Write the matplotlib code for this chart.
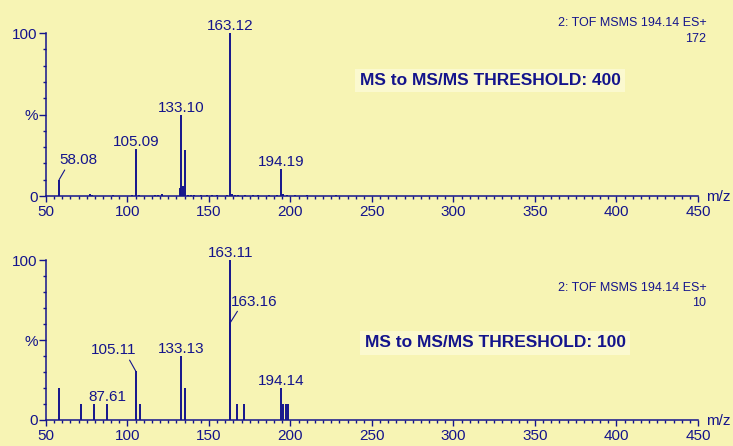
import matplotlib.pyplot as plt
from matplotlib.ticker import MultipleLocator

# top spectrum (threshold 400)
top_mz = [58.08, 77.1, 78.3, 91.0, 103.0, 105.09, 107.0, 117.0, 119.0, 121.0,
          132.3, 133.10, 134.1, 135.1, 137.0, 139.0, 141.0, 145.0, 149.0, 152.0,
          155.0, 161.0, 163.12, 164.2, 166.0, 168.0, 172.0, 177.0, 180.0, 187.0,
          192.0, 194.19, 195.3, 198.0, 203.0, 210.0, 228.0, 265.0, 300.0, 330.0,
          365.0, 408.0]
top_int = [10, 1.5, 0.8, 0.5, 0.6, 29, 0.5, 0.6, 0.8, 1.2,
           5, 50, 6, 28, 0.8, 0.6, 0.5, 0.6, 0.5, 0.6,
           0.5, 0.6, 100, 1.5, 0.8, 0.5, 0.6, 0.5, 0.6, 0.5,
           0.6, 16.5, 1.0, 0.6, 0.5, 0.4, 0.4, 0.3, 0.3, 0.3,
           0.3, 0.3]

# bottom spectrum (threshold 100)
bot_mz = [58.2, 71.3, 79.2, 87.61, 105.11, 107.4, 133.13, 135.3, 163.11, 163.16,
          167.0, 171.7, 194.14, 195.3, 197.4, 198.2]
bot_int = [20, 10, 10, 10, 30.5, 10, 40, 20, 100, 61,
           10, 10, 20, 10, 10, 10]

# labelled peaks: (m/z, intensity, text)
top_labels = [(58.08, 10, "58.08"), (105.09, 29, "105.09"), (133.10, 50, "133.10"),
              (163.12, 100, "163.12"), (194.19, 16.5, "194.19")]
bot_labels = [(87.61, 10, "87.61"), (105.11, 30.5, "105.11"), (133.13, 40, "133.13"),
              (163.11, 100, "163.11"), (163.16, 61, "163.16"), (194.14, 20, "194.14")]
leader = {"58.08": (14, 9), "105.11": (-16, 10), "163.16": (17, 10)}

headers = ["2: TOF MSMS 194.14 ES+\n172", "2: TOF MSMS 194.14 ES+\n10"]
thresholds = ["MS to MS/MS THRESHOLD: 400", "MS to MS/MS THRESHOLD: 100"]

BLUE = "#14148c"
BG = "#f7f4b4"
plt.rcParams["font.family"] = ["Liberation Sans", "DejaVu Sans"]

fig = plt.figure(figsize=(7.33, 4.46), dpi=100, facecolor=BG)
ax_top = fig.add_axes([0.0627, 0.5605, 0.8895, 0.3655])
ax_bot = fig.add_axes([0.0627, 0.0583, 0.8895, 0.3587])

panels = [(ax_top, top_mz, top_int, top_labels, 0),
          (ax_bot, bot_mz, bot_int, bot_labels, 1)]
header_y = [1.012, 0.778]
thr_pos = [(0.681, 0.709), (0.689, 0.483)]

for ax, mz, inten, labels, i in panels:
    ax.set_facecolor("none")
    ax.vlines(mz, 0, inten, color=BLUE, lw=1.4)
    ax.set_xlim(50, 450)
    ax.set_ylim(0, 100)
    for s in ("top", "right"):
        ax.spines[s].set_visible(False)
    for s in ("left", "bottom"):
        ax.spines[s].set_color(BLUE)
        ax.spines[s].set_linewidth(1.1)
    ax.xaxis.set_major_locator(MultipleLocator(50))
    ax.xaxis.set_minor_locator(MultipleLocator(5))
    ax.set_yticks([0, 50, 100])
    ax.set_yticklabels(["0", "%", "100"])
    ax.yaxis.set_minor_locator(MultipleLocator(10))
    ax.tick_params(which="both", colors=BLUE, width=1.0, labelsize=11, labelcolor=BLUE)
    ax.tick_params(axis="x", which="major", length=4.5, pad=2)
    ax.tick_params(axis="x", which="minor", length=2.5)
    ax.tick_params(axis="y", which="major", length=5, pad=1)
    ax.tick_params(axis="y", which="minor", length=2.5)

    ax.annotate("m/z", xy=(1, 0), xycoords="axes fraction", xytext=(6, -1),
                textcoords="offset points", ha="left", va="center",
                fontsize=11, color=BLUE)

    for x, y, txt in labels:
        if txt in leader:
            dx, dy = leader[txt]
            ax.annotate(txt, xy=(x, y), xytext=(dx, dy), textcoords="offset points",
                        ha="center", va="bottom", fontsize=11, color=BLUE,
                        arrowprops=dict(arrowstyle="-", color=BLUE, lw=0.8,
                                        shrinkA=0, shrinkB=0,
                                        relpos=(0.2 if dx > 0 else 0.8, 0.1)))
        else:
            ax.annotate(txt, xy=(x, y), xytext=(0, 0), textcoords="offset points",
                        ha="center", va="bottom", fontsize=11, color=BLUE)

    ax.text(1.013, header_y[i], headers[i], transform=ax.transAxes,
            ha="right", va="center", fontsize=9, color=BLUE,
            multialignment="right", linespacing=1.4)
    ax.text(thr_pos[i][0], thr_pos[i][1], thresholds[i],
            transform=ax.transAxes, ha="center", va="center", fontsize=12.5,
            fontweight="bold", color=BLUE,
            bbox=dict(boxstyle="square,pad=0.25", fc="#fbf9cf", ec="none"))

fig.savefig("out.png", dpi=100, facecolor=BG)
